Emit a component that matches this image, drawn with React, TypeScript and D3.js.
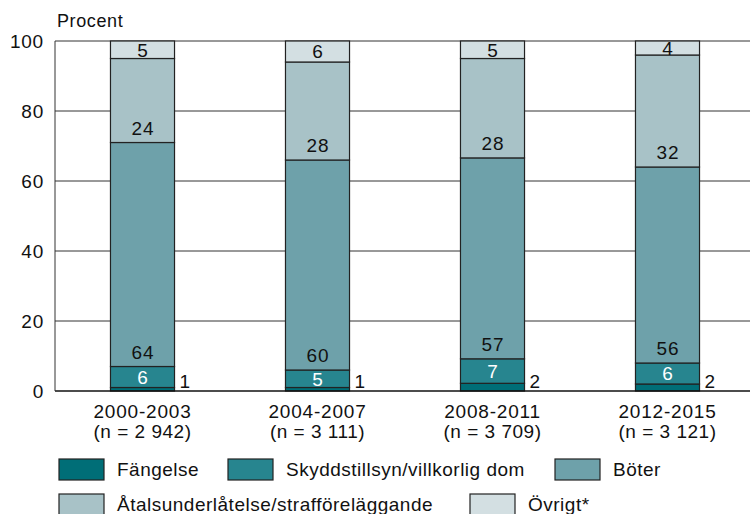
import React, { useEffect, useRef } from "react";
import * as d3 from "d3";

const periods = ["2000-2003", "2004-2007", "2008-2011", "2012-2015"];
const counts = ["(n = 2 942)", "(n = 3 111)", "(n = 3 709)", "(n = 3 121)"];
const seriesNames = [
  "Fängelse",
  "Skyddstillsyn/villkorlig dom",
  "Böter",
  "Åtalsunderlåtelse/strafföreläggande",
  "Övrigt*",
];
const colors = ["#006e77", "#27858f", "#6ea1aa", "#a8c2c7", "#d3dfe2"];
const fangelse = [1, 1, 2.2, 2];
const skydd = [6, 5, 7, 6];
const boter = [64, 60, 57.4, 56];
const atal = [24, 28, 28.4, 32];
const ovrigt = [5, 6, 5, 4];
const yTicks = [0, 20, 40, 60, 80, 100];

const FONT = "'Liberation Sans', Arial, Helvetica, sans-serif";

export default function App() {
  const svgRef = useRef<SVGSVGElement>(null);

  useEffect(() => {
    const svg = d3.select(svgRef.current);
    svg.selectAll("*").remove();

    const margin = { left: 55, right: 755, top: 41, bottom: 391 };
    const series = [fangelse, skydd, boter, atal, ovrigt];

    const rows = periods.map((p, i) => {
      const r: any = { period: p };
      series.forEach((s, k) => (r[k] = s[i]));
      return r;
    });
    const stacked = d3.stack<any>().keys(series.map((_, k) => String(k)))(rows);

    const x = d3
      .scaleBand()
      .domain(periods)
      .range([margin.left, margin.right])
      .paddingInner(0.634)
      .paddingOuter(0.317);

    const y = d3.scaleLinear().domain([0, 100]).range([margin.bottom, margin.top]);

    const txt = (sel: any, size = 19, ls = 0.8) =>
      sel
        .style("font-family", FONT)
        .style("font-size", size + "px")
        .style("letter-spacing", ls + "px")
        .attr("fill", "#111");

    // grid lines
    svg
      .append("g")
      .selectAll("line")
      .data(yTicks.filter((t) => t > 0))
      .enter()
      .append("line")
      .attr("x1", margin.left)
      .attr("x2", 750)
      .attr("y1", (d) => y(d))
      .attr("y2", (d) => y(d))
      .attr("stroke", "#333")
      .attr("stroke-width", 1);

    // tick labels
    txt(
      svg
        .append("g")
        .selectAll("text")
        .data(yTicks)
        .enter()
        .append("text")
        .attr("x", 44)
        .attr("y", (d) => y(d))
        .attr("dy", "0.35em")
        .attr("text-anchor", "end")
    ).text((d: number) => d);

    txt(svg.append("text").attr("x", 57).attr("y", 27), 18, 0.6).text("Procent");

    // bars
    stacked.forEach((layer, k) => {
      svg
        .append("g")
        .selectAll("rect")
        .data(layer)
        .enter()
        .append("rect")
        .attr("x", (d) => x(d.data.period)!)
        .attr("width", x.bandwidth())
        .attr("y", (d) => y(d[1]))
        .attr("height", (d) => y(d[0]) - y(d[1]))
        .attr("fill", colors[k])
        .attr("stroke", "#222")
        .attr("stroke-width", 1.2);
    });

    // value labels
    stacked.forEach((layer, k) => {
      layer.forEach((d) => {
        const v = d[1] - d[0];
        const label = Math.round(v);
        const top = y(d[1]);
        const bottom = y(d[0]);
        const h = bottom - top;
        const bx = x(d.data.period)!;
        const t = txt(svg.append("text"), 19, 0.8).text(label);
        if (h < 12) {
          const mid = (top + bottom) / 2;
          t.attr("x", bx + x.bandwidth() + 5)
            .attr("y", Math.min(mid + 4, margin.bottom - 10))
            .attr("dy", "0.35em");
        } else {
          const off = Math.min(8, (h - 13.5) / 2);
          t.attr("x", bx + x.bandwidth() / 2 + 0.4)
            .attr("y", bottom - off)
            .attr("text-anchor", "middle")
            .attr("fill", k === 1 ? "#fff" : "#111");
        }
      });
    });

    // axis lines
    svg
      .append("line")
      .attr("x1", margin.left)
      .attr("x2", 750)
      .attr("y1", margin.bottom)
      .attr("y2", margin.bottom)
      .attr("stroke", "#111")
      .attr("stroke-width", 1.5);
    svg
      .append("line")
      .attr("x1", margin.left)
      .attr("x2", margin.left)
      .attr("y1", margin.top)
      .attr("y2", margin.bottom)
      .attr("stroke", "#333")
      .attr("stroke-width", 1);

    // category labels
    const cat = svg.append("g");
    periods.forEach((p, i) => {
      const cx = x(p)! + x.bandwidth() / 2;
      txt(cat.append("text").attr("x", cx).attr("y", 418).attr("text-anchor", "middle")).text(p);
      txt(cat.append("text").attr("x", cx).attr("y", 438).attr("text-anchor", "middle"), 19, 0.5).text(
        counts[i]
      );
    });

    // legend
    const legendPos = [
      { x: 59, y: 459 },
      { x: 228, y: 459 },
      { x: 555, y: 459 },
      { x: 59, y: 494 },
      { x: 470, y: 494 },
    ];
    const lg = svg.append("g");
    seriesNames.forEach((name, k) => {
      const p = legendPos[k];
      lg.append("rect")
        .attr("x", p.x)
        .attr("y", p.y)
        .attr("width", 45)
        .attr("height", 21)
        .attr("fill", colors[k])
        .attr("stroke", "#222")
        .attr("stroke-width", 1.2);
      txt(lg.append("text").attr("x", p.x + 58).attr("y", p.y + 17), 19, 0.5).text(name);
    });
  }, []);

  return (
    <svg
      ref={svgRef}
      width={750}
      height={514}
      style={{ position: "absolute", left: 0, top: 0, background: "#fff" }}
    ></svg>
  );
}
